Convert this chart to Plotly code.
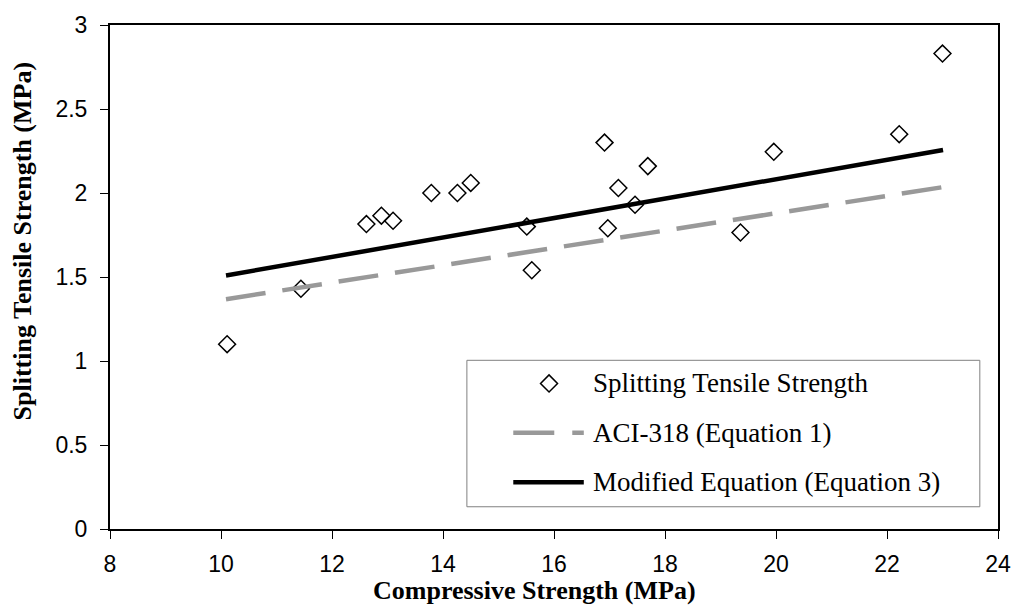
import plotly.graph_objects as go

# ---------------- data ----------------
compressive_strength = [10.11, 11.44, 12.62, 12.89, 13.10, 13.79, 14.26, 14.50,
                        15.51, 15.60, 16.91, 16.97, 17.16, 17.46, 17.69, 19.36,
                        19.96, 22.22, 23.00]
splitting_tensile = [1.10, 1.43, 1.815, 1.865, 1.835, 2.00, 2.00, 2.06,
                     1.80, 1.54, 2.30, 1.79, 2.03, 1.93, 2.16, 1.765,
                     2.245, 2.35, 2.83]

aci_x = [10.09, 23.01]
aci_y = [1.368, 2.035]

mod_x = [10.09, 23.01]
mod_y = [1.509, 2.256]

x_ticks = [8, 10, 12, 14, 16, 18, 20, 22, 24]
x_tick_labels = ["8", "10", "12", "14", "16", "18", "20", "22", "24"]
y_ticks = [0, 0.5, 1, 1.5, 2, 2.5, 3]
y_tick_labels = ["0", "0.5", "1", "1.5", "2", "2.5", "3"]

series_names = ["Splitting Tensile Strength",
                "ACI-318 (Equation 1)",
                "Modified Equation (Equation 3)"]

x_title = "Compressive Strength (MPa)"
y_title = "Splitting Tensile Strength (MPa)"

# ---------------- layout geometry (pixels) ----------------
W, H = 1023, 610
L, R, T, B = 110, 19, 19, 81
PW, PH = W - L - R, H - T - B


def xp(px):
    return (px - L) / PW


def yp(py):
    return (H - B - py) / PH


SERIF = "Liberation Serif, Times New Roman, serif"
SANS = "Liberation Sans, Arial, sans-serif"
GRAY = "#999999"

fig = go.Figure()

fig.add_trace(go.Scatter(
    x=compressive_strength, y=splitting_tensile, mode="markers",
    name=series_names[0],
    marker=dict(symbol="diamond-open", size=13, color="black",
                line=dict(width=1.5, color="black")),
))
fig.add_trace(go.Scatter(
    x=aci_x, y=aci_y, mode="lines", name=series_names[1],
    line=dict(color=GRAY, width=4.5, dash="40px,17px"),
))
fig.add_trace(go.Scatter(
    x=mod_x, y=mod_y, mode="lines", name=series_names[2],
    line=dict(color="black", width=4.5),
))

axis_common = dict(
    showgrid=False, zeroline=False, showline=True, linecolor="black",
    linewidth=2, mirror=True, ticks="outside", ticklen=8, tickwidth=1,
    tickcolor="black", tickfont=dict(family=SANS, size=23, color="black"),
)

fig.update_layout(
    width=W, height=H,
    margin=dict(l=L, r=R, t=T, b=B),
    paper_bgcolor="white", plot_bgcolor="white",
    showlegend=False,
    xaxis=dict(range=[8, 24], tickvals=x_ticks, ticktext=x_tick_labels,
               ticklabelstandoff=5, **axis_common),
    yaxis=dict(range=[0, 3], tickvals=y_ticks, ticktext=y_tick_labels,
               ticklabelstandoff=8, **axis_common),
)

# axis titles
fig.add_annotation(text="<b>%s</b>" % x_title, xref="paper", yref="paper",
                   x=xp(537), y=yp(591.5), xanchor="center", yanchor="middle",
                   showarrow=False, font=dict(family=SERIF, size=26, color="black"))
fig.add_annotation(text="<b>%s</b>" % y_title, xref="paper", yref="paper",
                   x=xp(22), y=yp(237.4), xanchor="center", yanchor="middle",
                   textangle=-90, showarrow=False,
                   font=dict(family=SERIF, size=26, color="black"))

# ---------------- legend (drawn in layout) ----------------
fig.add_shape(type="rect", xref="paper", yref="paper",
              x0=xp(469.3), x1=xp(985.7), y0=yp(506.5), y1=yp(358.3),
              line=dict(color="#808080", width=1), fillcolor="white", layer="above")

rows = [381.7, 431.7, 481.7]
# diamond sample
fig.add_shape(type="path", xref="paper", yref="paper",
              xsizemode="pixel", ysizemode="pixel",
              xanchor=xp(552), yanchor=yp(rows[0]),
              path="M -8.5,0 L 0,8.5 L 8.5,0 L 0,-8.5 Z",
              line=dict(color="black", width=1.5), layer="above")
# dashed sample
fig.add_shape(type="line", xref="paper", yref="paper",
              x0=xp(516), x1=xp(587), y0=yp(rows[1]), y1=yp(rows[1]),
              line=dict(color=GRAY, width=4.5, dash="41px,18px"), layer="above")
# solid sample
fig.add_shape(type="line", xref="paper", yref="paper",
              x0=xp(516), x1=xp(587), y0=yp(rows[2]), y1=yp(rows[2]),
              line=dict(color="black", width=4.5), layer="above")

for name, row in zip(series_names, rows):
    fig.add_annotation(text=name, xref="paper", yref="paper",
                       x=xp(594), y=yp(row), xanchor="left", yanchor="middle",
                       showarrow=False,
                       font=dict(family=SERIF, size=27, color="black"))

fig.write_html("out.html")
